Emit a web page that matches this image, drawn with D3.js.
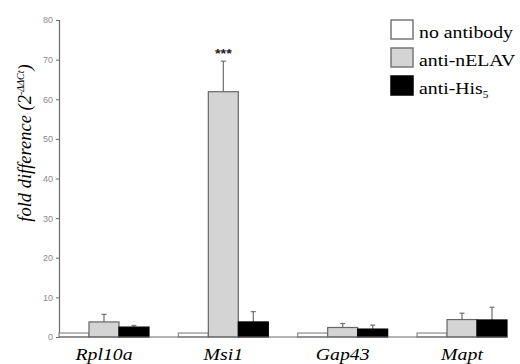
<!DOCTYPE html>
<html lang="en">
<head>
<meta charset="UTF-8">
<title>fold difference</title>
<script src="https://cdn.jsdelivr.net/npm/d3@7"></script>
<style>
  body { margin: 0; background: #fff; }
</style>
</head>
<body>
<script>
// data
const genes = ["Rpl10a", "Msi1", "Gap43", "Mapt"];
const series = ["no antibody", "anti-nELAV", "anti-His5"];
const noAntibody = [1.0, 1.0, 1.0, 1.0];
const antiNELAV = [3.8, 61.9, 2.4, 4.4];
const antiHis = [2.5, 3.8, 2.0, 4.3];
const errNELAV = [1.9, 7.7, 1.0, 1.6];
const errHis = [0.4, 2.6, 1.0, 3.2];
const yTicks = [0, 10, 20, 30, 40, 50, 60, 70, 80];

const width = 520, height = 364;
const fills = ["#ffffff", "#d4d4d4", "#000000"];
const strokes = ["#8a8a8a", "#666666", "#000000"];
const serif = "Liberation Serif";
const sans = "Liberation Sans";
const stretch = 1.2; // the source figure is a bit wider than tall

const rows = genes.map((g, i) => ({
  gene: g,
  vals: [
    { k: 0, v: noAntibody[i], e: 0 },
    { k: 1, v: antiNELAV[i], e: errNELAV[i] },
    { k: 2, v: antiHis[i], e: errHis[i] }
  ]
}));

const svg = d3.select("body").append("svg")
  .attr("width", width)
  .attr("height", height);

const x0 = d3.scaleBand().domain(genes).range([59, 507]).paddingInner(0.246).paddingOuter(0);
const x1 = d3.scaleBand().domain([0, 1, 2]).range([0, x0.bandwidth()]);
const y = d3.scaleLinear().domain([0, 80]).range([337, 20]);

// y axis
const yAxis = svg.append("g")
  .attr("transform", "translate(59,0)")
  .call(d3.axisLeft(y).tickValues(yTicks).tickSize(3).tickPadding(3));
yAxis.select(".domain").attr("stroke", "#6a6a6a").attr("stroke-width", 1.2);
yAxis.selectAll(".tick line").attr("stroke", "#6a6a6a");
yAxis.selectAll(".tick text")
  .attr("fill", "#8a8a8a")
  .attr("font-family", sans)
  .attr("font-size", 9);

// bars
const groups = svg.append("g").selectAll("g")
  .data(rows)
  .join("g")
  .attr("transform", d => `translate(${x0(d.gene)},0)`);

// error bars (upper only)
groups.selectAll("g.err")
  .data(d => d.vals.filter(v => v.e > 0))
  .join("g")
  .attr("class", "err")
  .each(function (d) {
    const cx = x1(d.k) + x1.bandwidth() / 2;
    const g = d3.select(this);
    g.append("line")
      .attr("x1", cx).attr("x2", cx)
      .attr("y1", y(d.v)).attr("y2", y(d.v + d.e))
      .attr("stroke", "#777").attr("stroke-width", 1.3);
    g.append("line")
      .attr("x1", cx - 2.5).attr("x2", cx + 2.5)
      .attr("y1", y(d.v + d.e)).attr("y2", y(d.v + d.e))
      .attr("stroke", "#777").attr("stroke-width", 1.3);
  });

groups.selectAll("rect")
  .data(d => d.vals)
  .join("rect")
  .attr("x", d => x1(d.k))
  .attr("y", d => y(d.v))
  .attr("width", x1.bandwidth())
  .attr("height", d => y(0) - y(d.v))
  .attr("fill", d => fills[d.k])
  .attr("stroke", d => strokes[d.k])
  .attr("stroke-width", 1.2);

// x baseline
svg.append("line")
  .attr("x1", 59).attr("x2", 507)
  .attr("y1", y(0)).attr("y2", y(0))
  .attr("stroke", "#6a6a6a").attr("stroke-width", 1.2);

// gene labels
svg.append("g").selectAll("text")
  .data(genes)
  .join("text")
  .attr("transform", d => `translate(${x0(d) + x0.bandwidth() / 2},360) scale(${stretch},1)`)
  .attr("text-anchor", "middle")
  .attr("font-family", serif)
  .attr("font-style", "italic")
  .attr("font-size", 16.5)
  .text(d => d);

// significance stars over Msi1 anti-nELAV
svg.append("text")
  .attr("transform", `translate(${x0("Msi1") + x1(1) + x1.bandwidth() / 2},${y(antiNELAV[1] + errNELAV[1]) - 3}) scale(${stretch},1)`)
  .attr("text-anchor", "middle")
  .attr("font-family", sans)
  .attr("font-weight", "bold")
  .attr("font-size", 12)
  .attr("fill", "#222")
  .text("***");

// y label
const yl = svg.append("text")
  .attr("transform", "translate(31,143) rotate(-90)")
  .attr("text-anchor", "middle")
  .attr("font-family", serif)
  .attr("font-style", "italic")
  .attr("font-size", 18.5);
yl.append("tspan").text("fold difference (2");
yl.append("tspan").attr("dy", -7).attr("font-size", 10).text("-ΔΔCt");
yl.append("tspan").attr("dy", 7).text(")");

// legend
const leg = svg.append("g").selectAll("g")
  .data(series)
  .join("g")
  .attr("transform", (d, i) => `translate(391,${20 + i * 28})`);
leg.append("rect")
  .attr("width", 22).attr("height", 19)
  .attr("fill", (d, i) => fills[i])
  .attr("stroke", (d, i) => i === 2 ? "#000" : "#777")
  .attr("stroke-width", 1.5);
leg.each(function (d, i) {
  const t = d3.select(this).append("text")
    .attr("transform", `translate(28,17.5) scale(${stretch},1)`)
    .attr("font-family", serif)
    .attr("font-size", 16.5);
  if (i === 2) {
    t.append("tspan").text("anti-His");
    t.append("tspan").attr("dy", 4).attr("font-size", 9.5).text("5");
  } else {
    t.text(d);
  }
});
</script>
</body>
</html>
